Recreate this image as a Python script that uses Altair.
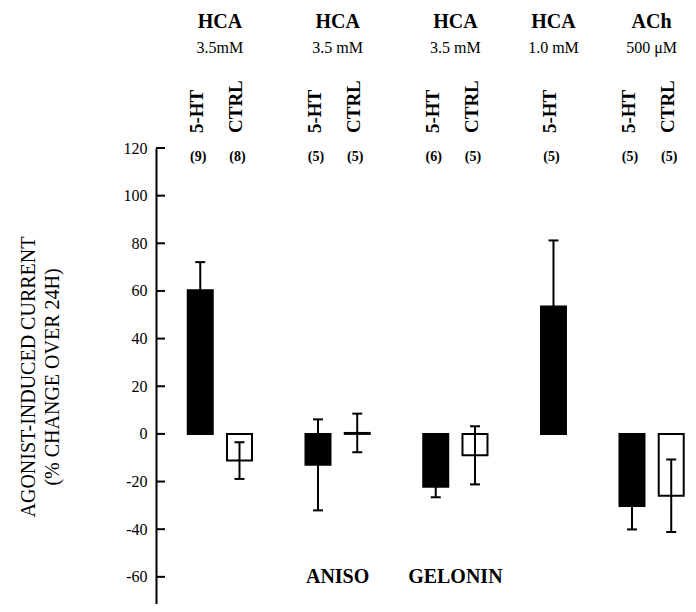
import altair as alt
import pandas as pd

# ---- data ----
positions = [0, 1, 3, 4, 6, 7, 9, 11, 12]
treatments = ["5-HT", "CTRL", "5-HT", "CTRL", "5-HT", "CTRL", "5-HT", "5-HT", "CTRL"]
n_labels = ["(9)", "(8)", "(5)", "(5)", "(6)", "(5)", "(5)", "(5)", "(5)"]
means = [60.3, -11.2, -13.0, 0.4, -22.2, -9.0, 53.5, -30.3, -26.0]
sems = [11.8, 7.7, 19.1, 8.1, 4.4, 12.2, 27.7, 9.8, 15.2]

group_centers = [0.5, 3.5, 6.5, 9, 11.5]
agents = ["HCA", "HCA", "HCA", "HCA", "ACh"]
concentrations = ["3.5mM", "3.5 mM", "3.5 mM", "1.0 mM", "500 μM"]

blocker_centers = [3.5, 6.5]
blockers = ["ANISO", "GELONIN"]

y_ticks = [-60, -40, -20, 0, 20, 40, 60, 80, 100, 120]
y_title = ["AGONIST-INDUCED CURRENT", "(% CHANGE OVER 24H)"]

FONT = "Liberation Serif"

df = pd.DataFrame({
    "pos": positions,
    "treatment": treatments,
    "n": n_labels,
    "mean": means,
    "sem": sems,
})
df["lo"] = df["mean"] - df["sem"]
df["hi"] = df["mean"] + df["sem"]
df["zero"] = 0.0

hdf = pd.DataFrame({"c": group_centers, "agent": agents, "conc": concentrations})
bdf = pd.DataFrame({"c": blocker_centers, "name": blockers})
tdf = pd.DataFrame({"v": y_ticks})

x_scale = alt.Scale(domain=[-1, 12.3], nice=False, zero=False)
y_scale = alt.Scale(domain=[-71.4, 120], nice=False, zero=False)
y_axis = alt.Axis(values=y_ticks, ticks=False, tickSize=0, labelPadding=9,
                  domainWidth=2, domainColor="black", labelFont=FONT,
                  labelFontSize=16, labelColor="black", grid=False, title="",
                  labelExpr="'' + datum.value")

X = alt.X("pos:Q", scale=x_scale, axis=None)

bars = alt.Chart(df).mark_bar(size=25, stroke="black", strokeWidth=2).encode(
    x=X,
    y=alt.Y("mean:Q", scale=y_scale, axis=y_axis),
    y2="zero:Q",
    fill=alt.Fill("treatment:N",
                  scale=alt.Scale(domain=["5-HT", "CTRL"], range=["black", "white"]),
                  legend=None),
)

err = alt.Chart(df).mark_rule(color="black", strokeWidth=2).encode(
    x=X,
    y=alt.Y("lo:Q", scale=y_scale, axis=y_axis),
    y2="hi:Q",
)

caps = alt.Chart(df).transform_fold(["lo", "hi"], as_=["end", "val"]).mark_tick(
    orient="horizontal", size=10, thickness=2, color="black", opacity=1
).encode(
    x=X,
    y=alt.Y("val:Q", scale=y_scale, axis=y_axis),
)

ticks = alt.Chart(tdf).mark_rule(color="black", strokeWidth=2).encode(
    y=alt.Y("v:Q", scale=y_scale, axis=y_axis),
    x=alt.value(0),
    x2=alt.value(9),
)

agent_text = alt.Chart(hdf).mark_text(
    font=FONT, fontSize=20, fontWeight="bold", align="center",
    baseline="alphabetic", color="black"
).encode(x=alt.X("c:Q", scale=x_scale, axis=None), y=alt.value(-119.7), text="agent:N")

conc_text = alt.Chart(hdf).mark_text(
    font=FONT, fontSize=16, align="center", baseline="alphabetic", color="black"
).encode(x=alt.X("c:Q", scale=x_scale, axis=None), y=alt.value(-95), text="conc:N")

treat_text = alt.Chart(df).mark_text(
    font=FONT, fontSize=19, fontWeight="bold", angle=270, align="left",
    baseline="alphabetic", dy=3, color="black"
).encode(x=X, y=alt.value(-15), text="treatment:N")

n_text = alt.Chart(df).mark_text(
    font=FONT, fontSize=14, fontWeight="bold", align="center",
    baseline="alphabetic", dx=-2, color="black"
).encode(x=X, y=alt.value(13), text="n:N")

block_text = alt.Chart(bdf).mark_text(
    font=FONT, fontSize=20, fontWeight="bold", align="center",
    baseline="alphabetic", color="black"
).encode(x=alt.X("c:Q", scale=x_scale, axis=None), y=alt.value(435), text="name:N")

title1 = alt.Chart(pd.DataFrame({"t": [y_title[0]]})).mark_text(
    font=FONT, fontSize=20, angle=270, align="center", baseline="middle", color="black"
).encode(x=alt.value(-127), y=alt.value(229), text="t:N")

title2 = alt.Chart(pd.DataFrame({"t": [y_title[1]]})).mark_text(
    font=FONT, fontSize=20, angle=270, align="center", baseline="middle", color="black"
).encode(x=alt.value(-103), y=alt.value(229), text="t:N")

chart = alt.layer(
    bars, err, caps, ticks, agent_text, conc_text, treat_text, n_text,
    block_text, title1, title2
).properties(
    width=532,
    height=456,
    padding={"left": 148, "top": 140, "right": 0, "bottom": 0},
    autosize=alt.AutoSizeParams(type="none"),
    background="white",
).configure_view(stroke="transparent")

chart.save("out.html", embed_options={"renderer": "svg", "actions": False})
